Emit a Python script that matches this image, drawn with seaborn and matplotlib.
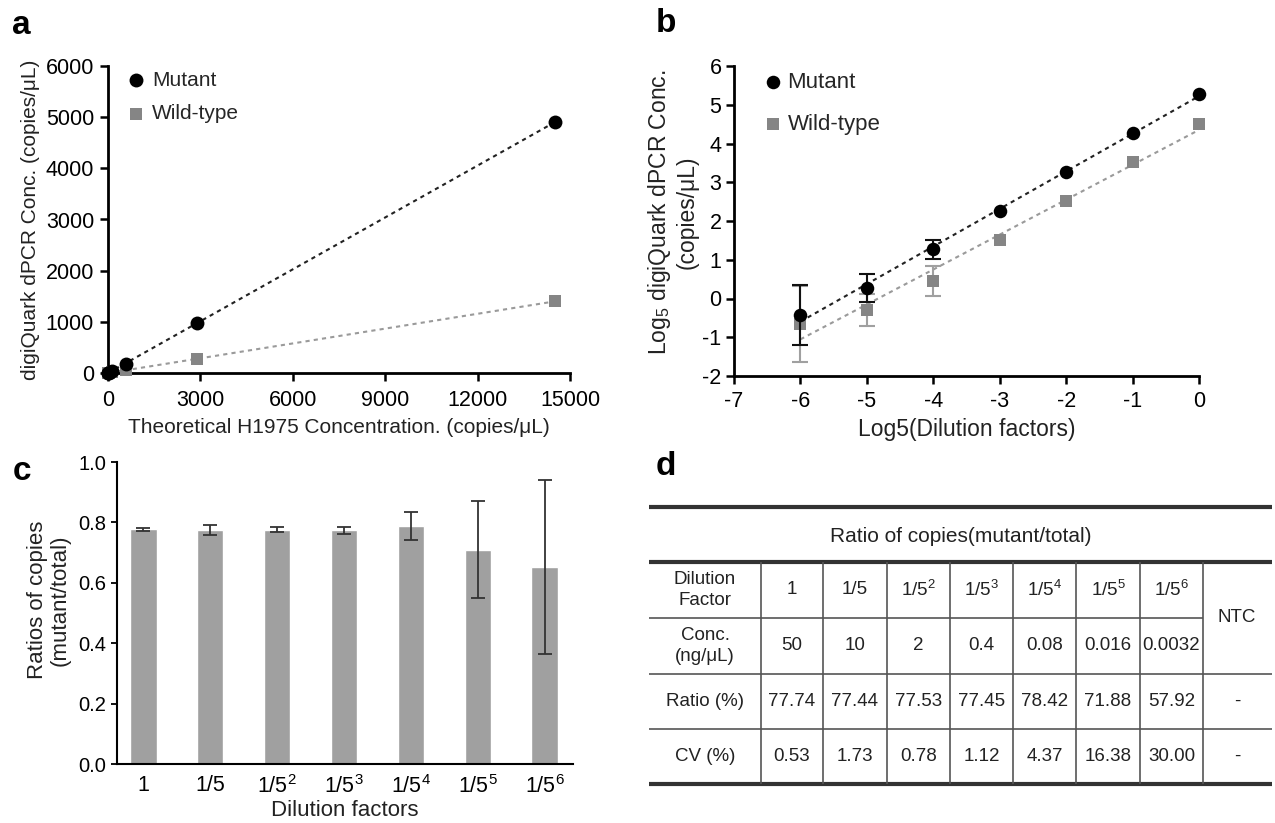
import numpy as np
import pandas as pd
import seaborn as sns
import matplotlib.pyplot as plt

# panel a: measured vs theoretical concentration (copies/uL)
theoretical = [14500, 2900, 580, 116, 23, 4.6, 0.93]
mutant_conc = [4900, 978, 182, 40, 8, 1.5, 0.4]
wildtype_conc = [1400, 273, 52, 11, 2.2, 0.6, 0.3]

# panel b: log5 values with error bars
log_dilution = [0, -1, -2, -3, -4, -5, -6]
mutant_log = [5.28, 4.28, 3.27, 2.25, 1.27, 0.27, -0.43]
mutant_log_err = [0, 0, 0, 0, 0.25, 0.37, 0.77]
wildtype_log = [4.50, 3.52, 2.52, 1.52, 0.45, -0.30, -0.67]
wildtype_log_err = [0, 0, 0, 0, 0.38, 0.42, 0.98]

# panel c: mutant/total ratio
dilution_labels = ['1', '1/5', '1/5$\\mathregular{^2}$', '1/5$\\mathregular{^3}$',
                   '1/5$\\mathregular{^4}$', '1/5$\\mathregular{^5}$', '1/5$\\mathregular{^6}$']
ratio_mean = [0.777, 0.776, 0.776, 0.774, 0.788, 0.710, 0.652]
ratio_err = [0.004, 0.017, 0.008, 0.011, 0.045, 0.160, 0.288]

# panel d: table
table_conc = ['50', '10', '2', '0.4', '0.08', '0.016', '0.0032']
table_ratio = ['77.74', '77.44', '77.53', '77.45', '78.42', '71.88', '57.92']
table_cv = ['0.53', '1.73', '0.78', '1.12', '4.37', '16.38', '30.00']

W, H = 1275, 823
sns.set_style('ticks')
plt.rcParams['font.family'] = ['Liberation Sans', 'DejaVu Sans']
plt.rcParams['axes.unicode_minus'] = False
plt.rcParams['mathtext.fontset'] = 'custom'
plt.rcParams['mathtext.rm'] = 'Liberation Sans'

TXT = '#222222'
MUT = 'black'
WT = '#858585'
WT_LINE = '#9a9a9a'


def px_axes(fig, left, top, right, bottom):
    return fig.add_axes([left / W, 1 - bottom / H, (right - left) / W, (bottom - top) / H])


def style_axes(ax, lw=2.0):
    sns.despine(ax=ax)
    for s in ['left', 'bottom']:
        ax.spines[s].set_linewidth(lw)
        ax.spines[s].set_color('black')


fig = plt.figure(figsize=(W / 100, H / 100), dpi=100)
fig.patch.set_facecolor('white')

# ---------------- panel a ----------------
ax_a = px_axes(fig, 108, 66, 570, 373)
sns.regplot(x=theoretical, y=wildtype_conc, scatter=False, ci=None, ax=ax_a,
            line_kws=dict(color=WT_LINE, ls=(0, (2, 2)), lw=1.5))
sns.regplot(x=theoretical, y=mutant_conc, scatter=False, ci=None, ax=ax_a,
            line_kws=dict(color='#222222', ls=(0, (2, 2)), lw=1.5))
sns.scatterplot(x=theoretical, y=wildtype_conc, marker='s', color=WT, s=80,
                linewidth=0, ax=ax_a, label='Wild-type', clip_on=False, zorder=3)
sns.scatterplot(x=theoretical, y=mutant_conc, marker='o', color=MUT, s=100,
                linewidth=0, ax=ax_a, label='Mutant', clip_on=False, zorder=4)
ax_a.set_xlim(0, 15000)
ax_a.set_ylim(0, 6000)
ax_a.set_xticks(range(0, 15001, 3000))
ax_a.set_yticks(range(0, 6001, 1000))
style_axes(ax_a)
ax_a.tick_params(axis='both', direction='out', length=6, width=1.8, labelsize=15.5,
                 colors='black')
ax_a.tick_params(axis='x', pad=6)
ax_a.tick_params(axis='y', pad=4)
ax_a.set_xlabel('Theoretical H1975 Concentration. (copies/μL)', fontsize=15, color=TXT)
ax_a.set_ylabel('digiQuark dPCR Conc. (copies/μL)', fontsize=15, color=TXT)
ax_a.xaxis.set_label_coords(0.5, -0.147)
ax_a.yaxis.set_label_coords(-0.147, 0.5)
h, l = ax_a.get_legend_handles_labels()
ax_a.legend([h[1], h[0]], [l[1], l[0]], loc='upper left', bbox_to_anchor=(0.038, 0.985),
            frameon=False, fontsize=15, handlelength=1.0, handletextpad=0.27,
            labelspacing=0.69, borderpad=0, borderaxespad=0)

# ---------------- panel b ----------------
ax_b = px_axes(fig, 734, 66, 1199, 376)
sns.regplot(x=log_dilution, y=wildtype_log, scatter=False, ci=None, ax=ax_b,
            line_kws=dict(color=WT_LINE, ls=(0, (2, 2)), lw=1.5))
sns.regplot(x=log_dilution, y=mutant_log, scatter=False, ci=None, ax=ax_b,
            line_kws=dict(color='#222222', ls=(0, (2, 2)), lw=1.5))
idx_wt = [i for i, e in enumerate(wildtype_log_err) if e > 0]
ax_b.errorbar([log_dilution[i] for i in idx_wt], [wildtype_log[i] for i in idx_wt],
              yerr=[wildtype_log_err[i] for i in idx_wt], fmt='none', ecolor='#a0a0a0',
              elinewidth=1.5, capsize=5.5, capthick=1.5, zorder=2)
sns.scatterplot(x=log_dilution, y=wildtype_log, marker='s', color=WT, s=85,
                linewidth=0, ax=ax_b, label='Wild-type', clip_on=False, zorder=3)
idx_mu = [i for i, e in enumerate(mutant_log_err) if e > 0]
ax_b.errorbar([log_dilution[i] for i in idx_mu], [mutant_log[i] for i in idx_mu],
              yerr=[mutant_log_err[i] for i in idx_mu], fmt='none', ecolor='#111111',
              elinewidth=1.5, capsize=5.5, capthick=1.5, zorder=4)
sns.scatterplot(x=log_dilution, y=mutant_log, marker='o', color=MUT, s=95,
                linewidth=0, ax=ax_b, label='Mutant', clip_on=False, zorder=5)
ax_b.set_xlim(-7, 0)
ax_b.set_ylim(-2, 6)
ax_b.set_xticks(range(-7, 1))
ax_b.set_yticks(range(-2, 7))
style_axes(ax_b)
ax_b.tick_params(axis='both', direction='out', length=6, width=1.8, labelsize=15.5,
                 colors='black')
ax_b.tick_params(axis='x', pad=5)
ax_b.tick_params(axis='y', pad=3)
ax_b.set_xlabel('Log5(Dilution factors)', fontsize=16.5, color=TXT)
ax_b.set_ylabel('Log$\\mathregular{_5}$ digiQuark dPCR Conc.\n(copies/μL)', fontsize=16.5,
                color=TXT, linespacing=1.15)
ax_b.xaxis.set_label_coords(0.5, -0.135)
ax_b.yaxis.set_label_coords(-0.075, 0.529)
h, l = ax_b.get_legend_handles_labels()
ax_b.legend([h[1], h[0]], [l[1], l[0]], loc='upper left', bbox_to_anchor=(0.060, 0.981),
            frameon=False, fontsize=16, handlelength=1.0, handletextpad=0.15,
            labelspacing=0.95, borderpad=0, borderaxespad=0)

# ---------------- panel c ----------------
ax_c = px_axes(fig, 117, 462, 573, 764)
df_c = pd.DataFrame({'Dilution': dilution_labels, 'Ratio': ratio_mean})
sns.barplot(data=df_c, x='Dilution', y='Ratio', color='#a0a0a0', saturation=1,
            width=0.4, errorbar=None, ax=ax_c)
ax_c.errorbar(np.arange(len(ratio_mean)), ratio_mean, yerr=ratio_err, fmt='none',
              ecolor='#333333', elinewidth=1.3, capsize=5, capthick=1.3)
ax_c.set_xlim(-0.39, 6.42)
ax_c.set_ylim(0, 1.0)
ax_c.set_yticks(np.arange(0, 1.01, 0.2))
ax_c.set_yticklabels([f'{v:.1f}' for v in np.arange(0, 1.01, 0.2)])
style_axes(ax_c, lw=1.5)
ax_c.tick_params(axis='y', direction='out', length=4.5, width=1.3, labelsize=14.5,
                 colors='black', pad=3.5)
ax_c.tick_params(axis='x', length=0, labelsize=15.5, colors='black', pad=8)
ax_c.set_xlabel('Dilution factors', fontsize=16, color=TXT)
ax_c.set_ylabel('Ratios of copies\n(mutant/total)', fontsize=16, color=TXT, linespacing=1.1)
ax_c.xaxis.set_label_coords(0.5, -0.119)
ax_c.yaxis.set_label_coords(-0.101, 0.543)

# ---------------- panel d (table) ----------------
ax_d = fig.add_axes([0, 0, 1, 1], zorder=-1)
ax_d.set_xlim(0, W)
ax_d.set_ylim(H, 0)
ax_d.axis('off')
col_edges = [649, 761, 823, 887, 950, 1013, 1076, 1140, 1203]
row_edges = [562, 618, 674, 729, 784]
x_end = 1272
ntc_x = 1237
ax_d.hlines([507, 562, 784], col_edges[0], x_end, color='#333333', lw=3)
ax_d.hlines(618, col_edges[0], col_edges[-1], color='#555555', lw=1.2)
ax_d.hlines([674, 729], col_edges[0], x_end, color='#555555', lw=1.2)
ax_d.vlines(col_edges[1:], 562, 784, color='#555555', lw=1.2)
ax_d.text((col_edges[0] + x_end) / 2, 537, 'Ratio of copies(mutant/total)', ha='center',
          va='center', fontsize=15, color=TXT)
row_mid = [(a + b) / 2 for a, b in zip(row_edges[:-1], row_edges[1:])]
col_mid = [(a + b) / 2 for a, b in zip(col_edges[:-1], col_edges[1:])]
row_names = ['Dilution\nFactor', 'Conc.\n(ng/μL)', 'Ratio (%)', 'CV (%)']
for r, name in enumerate(row_names):
    ax_d.text(col_mid[0], row_mid[r], name, ha='center', va='center', fontsize=13.5,
              color=TXT, linespacing=1.3)
table_rows = [dilution_labels, table_conc, table_ratio, table_cv]
for r, vals in enumerate(table_rows):
    for c, v in enumerate(vals):
        ax_d.text(col_mid[c + 1], row_mid[r], v, ha='center', va='center',
                  fontsize=13.5, color=TXT)
ax_d.text(ntc_x, (row_edges[0] + row_edges[2]) / 2, 'NTC', ha='center', va='center',
          fontsize=13.5, color=TXT)
for r in [2, 3]:
    ax_d.text(ntc_x, row_mid[r], '-', ha='center', va='center', fontsize=13.5, color=TXT)

# panel letters
for letter, (x, y) in zip('abcd', [(21, 25), (666, 23), (22, 472), (666, 467)]):
    fig.text(x / W, 1 - y / H, letter, ha='center', va='center', fontsize=24,
             fontweight='bold', color='black')

fig.savefig('out.png', dpi=100, facecolor='white')
